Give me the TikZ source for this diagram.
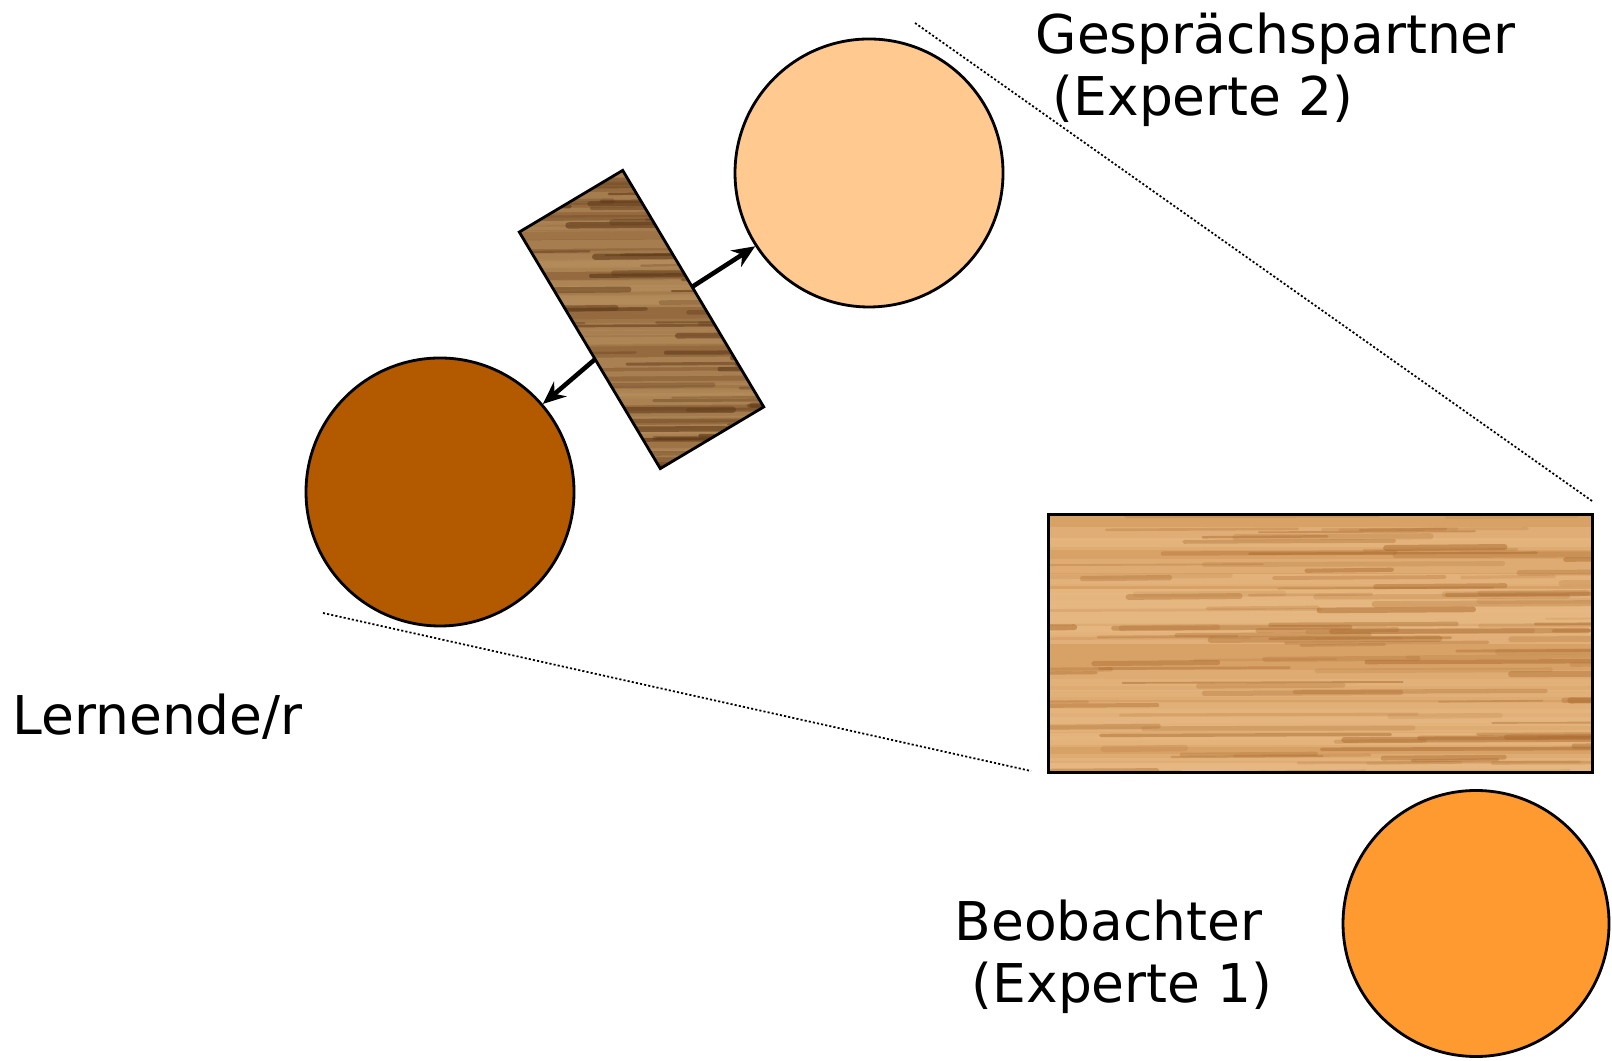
\documentclass[tikz,border=0pt]{standalone}
\usepackage{fontspec}
\setmainfont{DejaVu Sans}
\usetikzlibrary{arrows.meta}
\definecolor{Peach}{HTML}{FFC990}
\definecolor{Rust}{HTML}{B35A00}
\definecolor{Tangerine}{HTML}{FF9A30}
\definecolor{Oak}{HTML}{D8A267}
\definecolor{OakLight}{HTML}{E8BA84}
\definecolor{OakDark}{HTML}{A9692E}
\definecolor{Walnut}{HTML}{946A3E}
\definecolor{WalnutLight}{HTML}{B58D5C}
\definecolor{WalnutDark}{HTML}{5E3818}

\begin{document}
\begin{tikzpicture}[
  person/.style={circle,draw=black,line width=0.8pt,minimum size=2.68cm,inner sep=0pt},
  board/.style={rectangle,inner sep=0pt},
  rim/.style={draw=black,line width=0.8pt},
  sight/.style={line width=0.5pt,dash pattern=on 0.6pt off 0.6pt},
  link/.style={line width=1.3pt,-{Stealth[length=6.5pt,width=5.5pt]}},
  role/.style={font=\fontsize{15.2}{17.6}\selectfont,anchor=base west,align=left,inner sep=0pt}
]
\useasboundingbox (0,0) rectangle (16.12,10.60);

% the three people
\node[person,fill=Peach] (partner) at (8.69,8.87) {};
\node[person,fill=Rust] (learner) at (4.40,5.68) {};
\node[person,fill=Tangerine,minimum size=2.66cm] (observer) at (14.76,1.365) {};

% small table between learner and partner
\node[board,fill=Walnut,rotate=-59.2,minimum width=2.74cm,minimum height=1.19cm] (desk) at (6.415,7.405) {};
\begin{scope}
  \clip (desk.north west) -- (desk.north east) -- (desk.south east) -- (desk.south west) -- cycle;
  \pgfmathsetseed{5}
  \foreach \k in {0,...,45}{
    \pgfmathsetmacro\yy{5.9+3.0*rnd}
    \pgfmathsetmacro\ww{1.0+2.5*rnd}
    \pgfmathsetmacro\oo{0.3+0.4*rnd}
    \draw[WalnutLight,line width=\ww pt,opacity=\oo] (5.1,\yy) -- (7.8,\yy+0.02);
  }
  \foreach \k in {0,...,70}{
    \pgfmathsetmacro\yy{5.9+3.0*rnd}
    \pgfmathsetmacro\xx{4.8+2.8*rnd}
    \pgfmathsetmacro\ll{0.6+1.8*rnd}
    \pgfmathsetmacro\ww{0.5+1.3*rnd}
    \pgfmathsetmacro\oo{0.25+0.4*rnd}
    \draw[WalnutDark,line width=\ww pt,opacity=\oo,line cap=round] (\xx,\yy) -- ++(\ll,0.01);
  }
\end{scope}
\draw[rim] (desk.north west) -- (desk.north east) -- (desk.south east) -- (desk.south west) -- cycle;

% big table in front of the observer
\node[board,fill=Oak,minimum width=5.43cm,minimum height=2.57cm] (table) at (13.205,4.165) {};
\begin{scope}
  \clip (table.south west) rectangle (table.north east);
  \pgfmathsetseed{11}
  \foreach \k in {0,...,40}{
    \pgfmathsetmacro\yy{2.85+2.65*rnd}
    \pgfmathsetmacro\ww{1.5+3.0*rnd}
    \pgfmathsetmacro\oo{0.3+0.4*rnd}
    \draw[OakLight,line width=\ww pt,opacity=\oo] (10.4,\yy) -- (16.0,\yy);
  }
  \foreach \k in {0,...,110}{
    \pgfmathsetmacro\yy{2.85+2.65*rnd}
    \pgfmathsetmacro\xx{9.8+6.0*rnd}
    \pgfmathsetmacro\ll{0.8+2.2*rnd}
    \pgfmathsetmacro\ww{0.5+1.3*rnd}
    \pgfmathsetmacro\oo{0.15+0.35*rnd}
    \draw[OakDark,line width=\ww pt,opacity=\oo,line cap=round] (\xx,\yy) -- ++(\ll,0.01);
  }
\end{scope}
\draw[rim] (table.south west) rectangle (table.north east);

% what goes across the small table
\draw[link] (desk) -- (partner);
\draw[link] (desk) -- (learner);

% sight lines of the observer
\coordinate (s1) at (9.15,10.37);
\coordinate (s2) at (15.92,5.59);
\coordinate (s3) at (3.23,4.47);
\coordinate (s4) at (10.31,2.89);
\draw[sight] (s1) -- (s2);
\draw[sight] (s3) -- (s4);

% roles (base sits on the last line)
\node[role] (partnerlabel) at (10.35,9.445) {Gesprächspartner\\\hspace*{0.32em}(Experte 2)};
\node[role] (learnerlabel) at (0.12,3.25) {Lernende/r};
\node[role] (observerlabel) at (9.54,0.574) {Beobachter\\\hspace*{0.32em}(Experte 1)};
\end{tikzpicture}
\end{document}
